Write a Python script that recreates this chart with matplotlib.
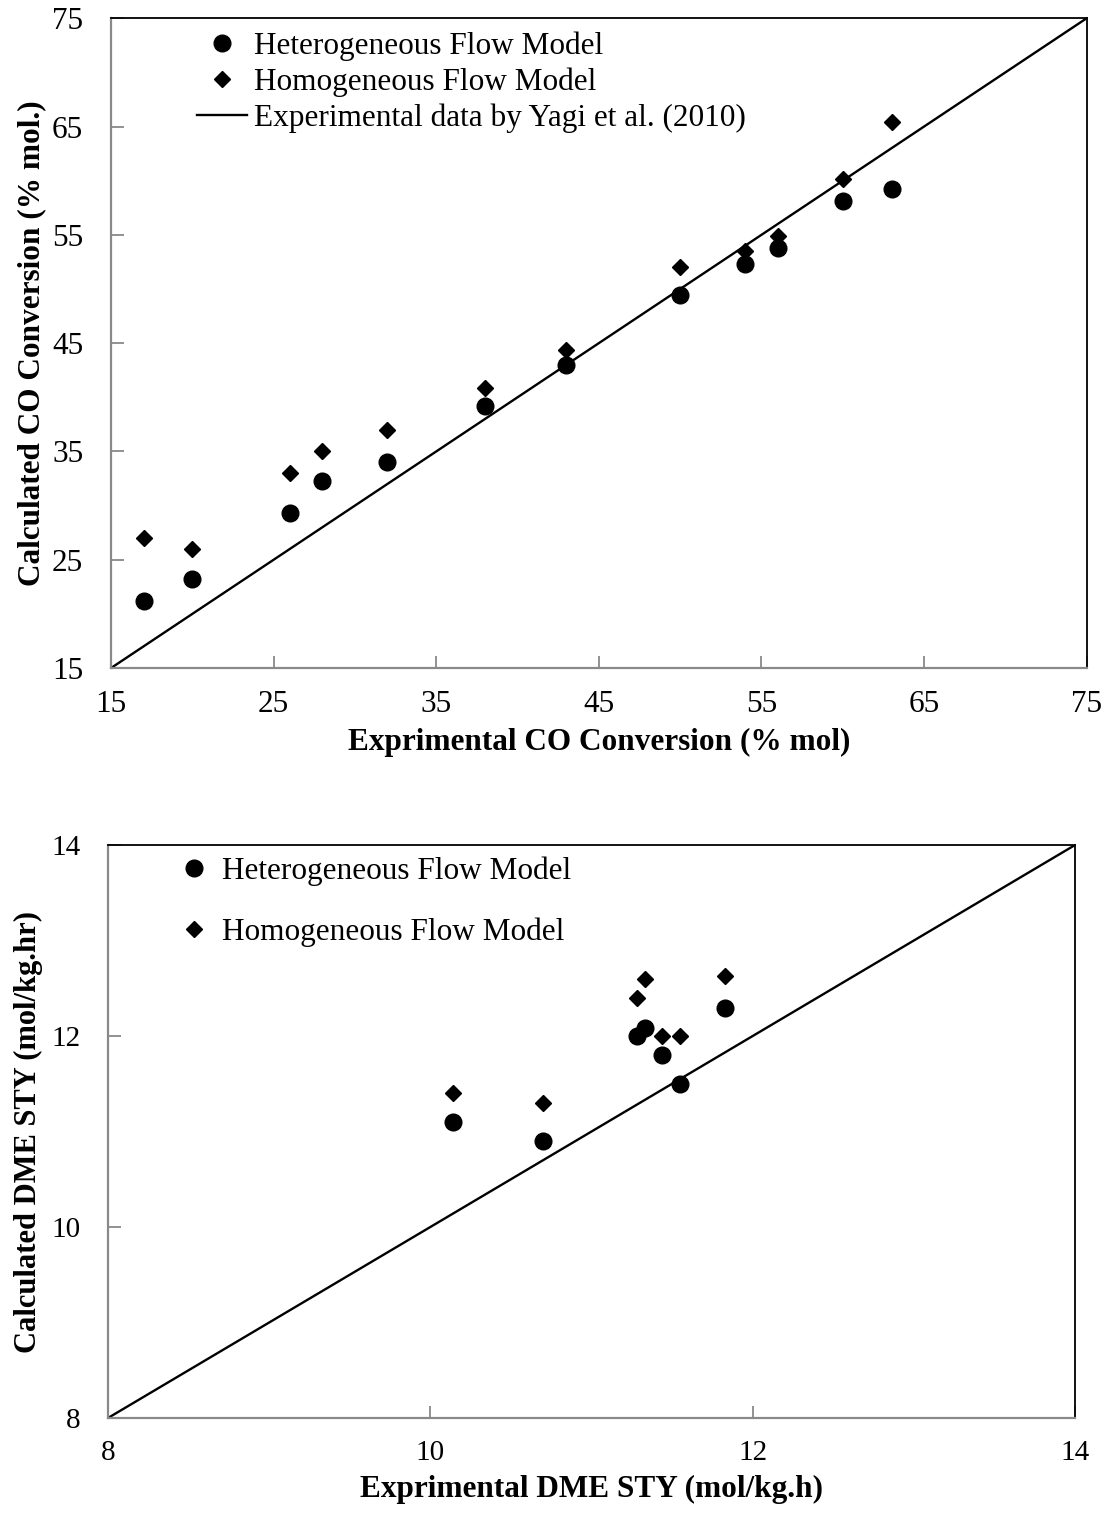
import matplotlib
matplotlib.use("Agg")
import matplotlib.pyplot as plt

plt.rcParams['font.family'] = ['Liberation Serif', 'DejaVu Serif']

# ---- Top chart data: CO conversion ----
co_exp = [17, 20, 26, 28, 32, 38, 43, 50, 54, 56, 60, 63]
co_het = [21.2, 23.2, 29.3, 32.3, 34.0, 39.2, 43.0, 49.4, 52.3, 53.8, 58.1, 59.2]
co_hom = [27.0, 26.0, 33.0, 35.0, 37.0, 40.9, 44.4, 52.0, 53.5, 54.9, 60.2, 65.4]
co_line = [15, 75]
co_ticks = [15, 25, 35, 45, 55, 65, 75]

# ---- Bottom chart data: DME STY ----
dme_exp = [10.14, 10.70, 11.28, 11.33, 11.44, 11.55, 11.83]
dme_het = [11.10, 10.90, 12.00, 12.08, 11.80, 11.50, 12.29]
dme_hom = [11.40, 11.30, 12.40, 12.60, 12.00, 12.00, 12.63]
dme_line = [8, 14]
dme_xticks = [8, 10, 12, 14]
dme_yticks = [8, 10, 12, 14]

fig = plt.figure(figsize=(11.1, 15.19), dpi=100)
ax1 = fig.add_axes([0.100, 0.5602, 0.879, 0.4278])
ax2 = fig.add_axes([0.0973, 0.0665, 0.8712, 0.3772])

grey = '#898989'

def style(ax, size):
    for s in ['left', 'bottom']:
        ax.spines[s].set_color(grey)
        ax.spines[s].set_linewidth(1.6)
    for s in ['top', 'right']:
        ax.spines[s].set_color('black')
        ax.spines[s].set_linewidth(1.3)
    ax.tick_params(direction='in', length=9, width=1.3, color=grey,
                   labelsize=size)
    ax.tick_params(axis='y', pad=20)
    ax.tick_params(axis='x', pad=16)

# Top
ax1.plot(co_exp, co_het, 'o', color='black', ms=12, label='Heterogeneous Flow Model', zorder=3)
ax1.plot(co_exp, co_hom, 'D', color='black', ms=8.5, label='Homogeneous Flow Model', zorder=3)
ax1.plot(co_line, co_line, '-', color='black', lw=1.7, label='Experimental data by Yagi et al. (2010)')
ax1.set_xlim(15, 75)
ax1.set_ylim(15, 75)
ax1.set_xticks(co_ticks)
ax1.set_yticks(co_ticks)
style(ax1, 22.5)
ax1.set_xlabel('Exprimental CO Conversion (% mol)', fontsize=22.5, fontweight='bold', labelpad=6)
ax1.set_ylabel('Calculated CO Conversion (% mol.)', fontsize=22.5, fontweight='bold', labelpad=4)
ax1.legend(loc='upper left', bbox_to_anchor=(0.066, 1.013), frameon=False, fontsize=22.5,
           handlelength=1.6, handletextpad=0.2, labelspacing=0.2, borderaxespad=0.3)

# Bottom
ax2.plot(dme_exp, dme_het, 'o', color='black', ms=12, label='Heterogeneous Flow Model', zorder=3)
ax2.plot(dme_exp, dme_hom, 'D', color='black', ms=8.5, label='Homogeneous Flow Model', zorder=3)
ax2.plot(dme_line, dme_line, '-', color='black', lw=1.7)
ax2.set_xlim(8, 14)
ax2.set_ylim(8, 14)
ax2.set_xticks(dme_xticks)
ax2.set_yticks(dme_yticks)
style(ax2, 21)
ax2.set_xlabel('Exprimental DME STY (mol/kg.h)', fontsize=22.5, fontweight='bold', labelpad=6)
ax2.set_ylabel('Calculated DME STY (mol/kg.hr)', fontsize=22, fontweight='bold', labelpad=6)
ax2.legend(loc='upper left', bbox_to_anchor=(0.05, 1.018), frameon=False, fontsize=22.5,
           handlelength=1.0, handletextpad=0.4, labelspacing=1.0, borderaxespad=0.3)

fig.savefig('out.png', dpi=100)
